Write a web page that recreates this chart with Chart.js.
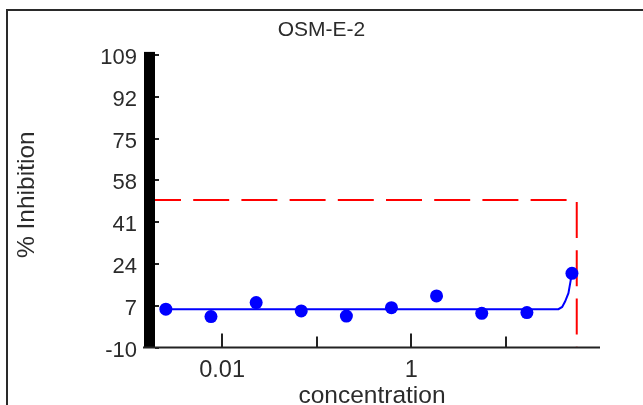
<!DOCTYPE html>
<html>
<head>
<meta charset="utf-8">
<script src="https://cdn.jsdelivr.net/npm/chart.js@4.4.1/dist/chart.umd.min.js"></script>
<style>
  html, body { margin: 0; padding: 0; background: #fff; }
  #wrap { width: 643px; height: 405px; }
</style>
</head>
<body>
<div id="wrap"><canvas id="chart" width="643" height="405"></canvas></div>
<script>
  "use strict";

  const chartTitle = "OSM-E-2";
  const xTitle = "concentration";
  const yTitle = "% Inhibition";

  // measured points (3-fold dilution series)
  const concentrations = [0.00254, 0.00762, 0.0229, 0.0686, 0.206, 0.617, 1.85, 5.56, 16.7, 50];
  const inhibition = [5.6, 2.6, 8.3, 4.9, 2.8, 6.2, 11.0, 3.9, 4.2, 20.2];

  // fitted curve
  const fitX = [0.00254, 36, 39.4, 42.3, 45.9, 48.6, 50];
  const fitY = [5.6, 5.6, 6.5, 8.7, 12.1, 17.5, 20.2];

  const xRange = [0.00195, 99];
  const yRange = [-10, 110.3];

  // 50% cut-off marker
  const cutoffX = [xRange[0], 56.2, 56.2];
  const cutoffY = [50, 50, -10];

  const xTickValues = [0.01, 0.1, 1, 10];
  const xTickLabels = ["0.01", "", "1", ""];
  const yTickValues = [-10, 7, 24, 41, 58, 75, 92, 109];

  const textColor = "#2b2b2b";
  const fontFamily = "'Liberation Sans', Arial, sans-serif";

  function toPoints(xs, ys) {
    return xs.map((x, i) => ({ x, y: ys[i] }));
  }

  const axesPainter = {
    id: "axesPainter",
    beforeDraw(chart) {
      const { ctx } = chart;
      ctx.save();
      ctx.fillStyle = "#fff";
      ctx.fillRect(0, 0, chart.width, chart.height);
      ctx.strokeStyle = "#2a2a2a";
      ctx.lineWidth = 2;
      ctx.beginPath();
      ctx.moveTo(7, chart.height);
      ctx.lineTo(7, 10);
      ctx.lineTo(chart.width, 10);
      ctx.stroke();
      ctx.restore();
    },
    afterDraw(chart) {
      const { ctx, chartArea, scales } = chart;
      const xs = scales.x;
      const ys = scales.y;
      ctx.save();
      // heavy left axis bar
      ctx.fillStyle = "#000";
      ctx.fillRect(chartArea.left - 11, chartArea.top, 11, chartArea.bottom - chartArea.top);
      // x axis line
      ctx.strokeStyle = "#222";
      ctx.lineWidth = 2;
      ctx.beginPath();
      ctx.moveTo(chartArea.left - 12, chartArea.bottom);
      ctx.lineTo(chartArea.right, chartArea.bottom);
      ctx.stroke();
      // ticks point inward
      ys.ticks.forEach((t) => {
        const py = Math.round(ys.getPixelForValue(t.value));
        ctx.beginPath();
        ctx.moveTo(chartArea.left, py);
        ctx.lineTo(chartArea.left + 4, py);
        ctx.stroke();
      });
      xs.ticks.forEach((t, i) => {
        const px = Math.round(xs.getPixelForValue(t.value));
        const len = xTickLabels[i] ? 14 : 11;
        ctx.beginPath();
        ctx.moveTo(px, chartArea.bottom);
        ctx.lineTo(px, chartArea.bottom - len);
        ctx.stroke();
      });

      // axis titles
      ctx.fillStyle = textColor;
      ctx.textAlign = "center";
      ctx.textBaseline = "alphabetic";
      ctx.font = `24.5px ${fontFamily}`;
      ctx.fillText(xTitle, (chartArea.left - 11 + chartArea.right) / 2, chart.height - 2);

      ctx.translate(33.5, (chartArea.top + chartArea.bottom) / 2 - 5);
      ctx.rotate(-Math.PI / 2);
      ctx.fillText(yTitle, 0, 0);
      ctx.restore();
    },
  };

  new Chart(document.getElementById("chart"), {
    type: "scatter",
    data: {
      datasets: [
        {
          label: "fit",
          data: toPoints(fitX, fitY),
          showLine: true,
          borderColor: "#0000ff",
          borderWidth: 2,
          pointRadius: 0,
          tension: 0,
        },
        {
          label: "data",
          data: toPoints(concentrations, inhibition),
          backgroundColor: "#0000ff",
          borderColor: "#0000ff",
          borderWidth: 0,
          pointRadius: 6.5,
        },
        {
          label: "cutoff",
          data: toPoints(cutoffX, cutoffY),
          showLine: true,
          borderColor: "#ff0000",
          borderWidth: 2,
          borderDash: [36, 12.2],
          borderDashOffset: 10,
          pointRadius: 0,
          tension: 0,
        },
      ],
    },
    options: {
      responsive: false,
      animation: false,
      devicePixelRatio: 1,
      layout: { padding: 0 },
      plugins: {
        legend: { display: false },
        tooltip: { enabled: false },
        title: {
          display: true,
          text: chartTitle,
          color: textColor,
          font: { family: fontFamily, size: 21, weight: "normal" },
          padding: { top: 18, bottom: 8.7 },
        },
      },
      scales: {
        x: {
          type: "logarithmic",
          min: xRange[0],
          max: xRange[1],
          afterBuildTicks(scale) {
            scale.ticks = xTickValues.map((v) => ({ value: v }));
          },
          afterFit(scale) {
            scale.height = 57.5;
          },
          grid: { display: false, drawTicks: false },
          border: { display: false },
          ticks: {
            autoSkip: false,
            maxRotation: 0,
            padding: 9,
            color: textColor,
            font: { family: fontFamily, size: 23.5 },
            callback: (value, index) => xTickLabels[index],
          },
        },
        y: {
          type: "linear",
          min: yRange[0],
          max: yRange[1],
          afterBuildTicks(scale) {
            scale.ticks = yTickValues.map((v) => ({ value: v }));
          },
          afterFit(scale) {
            scale.width = 155;
          },
          grid: { display: false, drawTicks: false },
          border: { display: false },
          ticks: {
            padding: 18,
            labelOffset: 3,
            color: textColor,
            font: { family: fontFamily, size: 22 },
          },
        },
        yRight: {
          position: "right",
          display: true,
          afterFit(scale) {
            scale.width = 43;
          },
          grid: { display: false, drawTicks: false },
          border: { display: false },
          ticks: { display: false },
        },
      },
    },
    plugins: [axesPainter],
  });
</script>
</body>
</html>
